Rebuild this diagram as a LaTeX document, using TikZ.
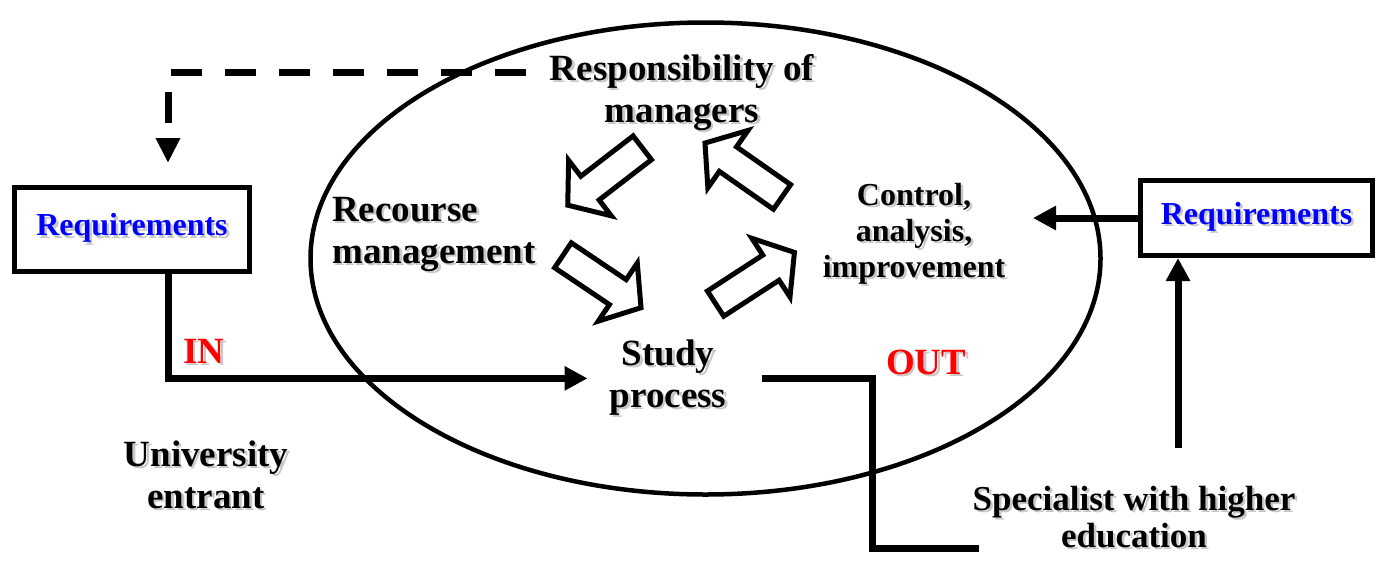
\documentclass[tikz,border=0pt]{standalone}
\usepackage{fontspec}
\setmainfont{Liberation Serif}
\usetikzlibrary{arrows.meta}
\definecolor{shadowgray}{RGB}{200,200,200}
\definecolor{reqblue}{RGB}{0,0,255}
\definecolor{inred}{RGB}{255,0,0}
\newcommand\shd[1]{\rlap{\kern2.5pt\raisebox{-2.5pt}{\color{shadowgray}#1}}#1}
\begin{document}
\begin{tikzpicture}[x=1pt,y=-1pt,
  lbl/.style={inner sep=0pt, align=center, font=\fontsize{37}{42}\selectfont\bfseries},
  lblsmall/.style={inner sep=0pt, align=center, font=\fontsize{32}{36}\selectfont\bfseries},
  lblspec/.style={inner sep=0pt, align=center, font=\fontsize{35}{37}\selectfont\bfseries},
  reqbox/.style={draw, line width=5pt, inner sep=0pt, text=reqblue,
    font=\fontsize{32}{36}\selectfont\bfseries},
  inout/.style={inner sep=0pt, text=inred, font=\fontsize{37}{42}\selectfont\bfseries},
  conn/.style={line width=7pt},
  solidtip/.style={-{Triangle[length=23pt,width=23pt]}},
  dashconn/.style={line width=7pt, dash pattern=on 31pt off 23pt, -{Triangle[length=25pt,width=23pt]}},
  blockarrow/.pic={\draw[line width=5pt, line join=miter, fill=white]
     (-47,-15) -- (19,-15) -- (19,-35) -- (47,0) -- (19,35) -- (19,15) -- (-47,15) -- cycle;}
]
\useasboundingbox (0,0) rectangle (1383,563);
\fill[white] (0,0) rectangle (1383,563);

% ellipse
\draw[line width=4.5pt] (705.5,258.5) ellipse [x radius=395, y radius=236];

% texts (base anchor = baseline of last line)
\node[lbl, anchor=base] (resp) at (682,122) {\shd{Responsibility of}\\\shd{managers}};
\node[lbl, align=left, anchor=base west] (rec) at (332,263) {\shd{Recourse}\\\shd{management}};
\node[lbl, anchor=base] (study) at (668,407) {\shd{Study}\\\shd{process}};
\node[lblsmall, anchor=base] (ctrl) at (914,277) {\shd{Control,}\\\shd{analysis,}\\\shd{improvement}};
\node[lbl, anchor=base] (univ) at (206,508) {\shd{University}\\\shd{entrant}};
\node[lblspec, anchor=base] (spec) at (1134,547) {\shd{Specialist with higher}\\\shd{education}};
\node[inout, anchor=base west] (in) at (183,363) {\shd{IN}};
\node[inout, anchor=base west] (out) at (886,374) {\shd{OUT}};

% boxes
\node[reqbox, minimum width=235, minimum height=84] (reqL) at (132,229.5) {\shd{Requirements}};
\node[reqbox, minimum width=232, minimum height=75] (reqR) at (1256.5,218) {\shd{Requirements}};

% block arrows
\pic[rotate=217.6] at (605,176.5) {blockarrow};
\pic[rotate=145] at (743.5,170) {blockarrow};
\pic[rotate=-33.9] at (602,281.5) {blockarrow};
\pic[rotate=33] at (755,278) {blockarrow};

% coordinates
\coordinate (lx) at (168,0);
\coordinate (dstart) at (526,72);
\coordinate (ca) at (1033,0);
\coordinate (sa) at (1178,448);
\coordinate (ob) at (872,548);
\coordinate (oe) at (979,548);

% connectors
\draw[dashconn] (dstart) -| ([yshift=22pt]reqL.north -| lx);
\draw[conn, solidtip, shorten >=22pt] (reqL.south -| lx) |- (study.west);
\draw[conn] ([xshift=36pt]study.east) -| (ob) -- (oe);
\draw[conn, solidtip] (reqR.west) -- (reqR.west -| ca);
\draw[conn, solidtip] (sa) -- (reqR.south -| sa);
\end{tikzpicture}
\end{document}
